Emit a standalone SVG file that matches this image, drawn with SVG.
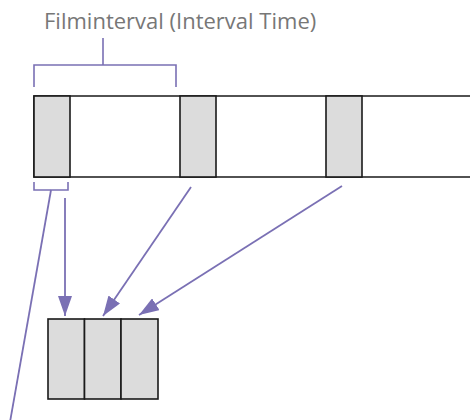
<svg xmlns="http://www.w3.org/2000/svg" width="470" height="420" viewBox="0 0 470 420">
<defs>
<style>
.lbl{font-family:"Open Sans","Noto Sans","Liberation Sans",sans-serif;font-size:22px;fill:#777}
.br{fill:none;stroke:#7a70b4;stroke-width:1.6}
.ln{fill:none;stroke:#7a70b4;stroke-width:1.8}
.frame{fill:#dcdcdc;stroke:#1a1a1a;stroke-width:1.6}
.strip{fill:#fff;stroke:#1a1a1a;stroke-width:1.6}
</style>
<marker id="ah" viewBox="0 0 20 14" refX="20" refY="7" markerWidth="20" markerHeight="14" markerUnits="userSpaceOnUse" orient="auto">
<path d="M0,0 L20,7 L0,14 Z" fill="#7a70b4"/>
</marker>
</defs>
<text class="lbl" x="44" y="29">Filminterval (Interval Time)</text>
<g id="bracket-top">
<path class="br" d="M103,38 V65 M34,87 V65 H176 V87"/>
</g>
<g id="filmstrip">
<path class="strip" d="M472,96 H34 V177 H472"/>
<rect id="frame1" class="frame" x="34" y="96" width="36" height="81"/>
<rect id="frame2" class="frame" x="180" y="96" width="36" height="81"/>
<rect id="frame3" class="frame" x="326" y="96" width="36" height="81"/>
</g>
<g id="bracket-small">
<path class="br" d="M34,182 V190 H68 V182"/>
</g>
<g id="connectors">
<line class="ln" x1="51" y1="190" x2="10" y2="422"/>
<line class="ln" x1="65" y1="198" x2="65" y2="316" marker-end="url(#ah)"/>
<line class="ln" x1="191" y1="187" x2="103" y2="316" marker-end="url(#ah)"/>
<line class="ln" x1="342" y1="186" x2="139" y2="315" marker-end="url(#ah)"/>
</g>
<g id="result">
<rect class="frame" x="48" y="319" width="36.5" height="80"/>
<rect class="frame" x="84.5" y="319" width="36.5" height="80"/>
<rect class="frame" x="121" y="319" width="37" height="80"/>
</g>
</svg>
